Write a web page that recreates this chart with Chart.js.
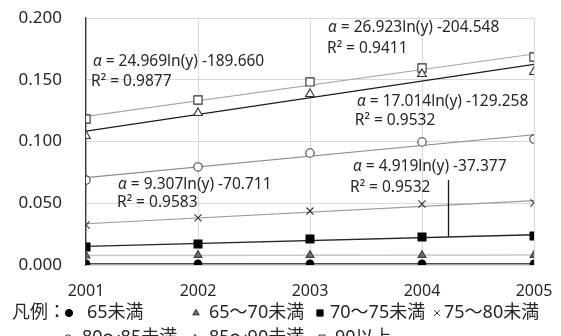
<!DOCTYPE html>
<html>
<head>
<meta charset="utf-8">
<script src="https://cdn.jsdelivr.net/npm/chart.js@4.4.1/dist/chart.umd.min.js"></script>
<style>
  html, body { margin: 0; padding: 0; background: #ffffff; overflow: hidden; }
  canvas { display: block; }
</style>
</head>
<body>
<canvas id="chart" width="561" height="336"></canvas>
<script>
// Years on the horizontal axis and the value ticks on the vertical axis
const years = [2001, 2002, 2003, 2004, 2005];
const yTicks = [0.000, 0.050, 0.100, 0.150, 0.200];

// Age-group names (legend) and the yearly values of each group
const groupNames = ['65未満', '65～70未満', '70～75未満', '75～80未満', '80～85未満', '85～90未満', '90以上'];
const under65   = [0.001, 0.001, 0.001, 0.001, 0.001];
const age65to70 = [0.0075, 0.008, 0.008, 0.008, 0.008];
const age70to75 = [0.0146, 0.0170, 0.0211, 0.0227, 0.0235];
const age75to80 = [0.0324, 0.0381, 0.0437, 0.0494, 0.0502];
const age80to85 = [0.0688, 0.0794, 0.0907, 0.0996, 0.1020];
const age85to90 = [0.1045, 0.1231, 0.1385, 0.1547, 0.1563];
const over90    = [0.1182, 0.1336, 0.1482, 0.1595, 0.1684];

// Fitted-curve equations printed on the plot, with their R² values
const fitGroups    = ['85～90未満', '90以上', '80～85未満', '75～80未満', '70～75未満'];
const fitEquations = ['24.969ln(y) -189.660', '26.923ln(y) -204.548', '17.014ln(y) -129.258', '9.307ln(y) -70.711', '4.919ln(y) -37.377'];
const fitR2        = ['0.9877', '0.9411', '0.9532', '0.9583', '0.9532'];

const groupValues = [under65, age65to70, age70to75, age75to80, age80to85, age85to90, over90];

// Marker and trend-line looks per group
const looks = [
  { shape: 'circle',   r: 3.8, fill: '#000000', edge: '#000000', trend: '#4d4d4d', trendW: 1.6, legR: 3.6 },
  { shape: 'triangle', r: 4.6, fill: '#6b6b6b', edge: '#404040', trend: '#c8c8c8', trendW: 1.4, legR: 3.8 },
  { shape: 'rect',     r: 5.6, fill: '#000000', edge: '#000000', trend: '#262626', trendW: 1.3, legR: 4.4 },
  { shape: 'crossRot', r: 5.0, fill: '#ffffff', edge: '#303030', trend: '#9a9a9a', trendW: 1.1, legR: 4.0 },
  { shape: 'circle',   r: 4.2, fill: '#ffffff', edge: '#404040', trend: '#8c8c8c', trendW: 1.1, legR: 3.2 },
  { shape: 'triangle', r: 5.0, fill: '#ffffff', edge: '#303030', trend: '#1a1a1a', trendW: 1.3, legR: 3.8 },
  { shape: 'rect',     r: 5.8, fill: '#ffffff', edge: '#303030', trend: '#a6a6a6', trendW: 1.1, legR: 4.2 }
];

// Where the equation texts sit, in axis units (year, value)
const notePlaces = [
  { eq: [2001.062, 0.1644], r2: [2001.045, 0.1482] },
  { eq: [2003.161, 0.1919], r2: [2003.152, 0.1749] },
  { eq: [2003.420, 0.1320], r2: [2003.400, 0.1166] },
  { eq: [2001.286, 0.0648], r2: [2001.277, 0.0502] },
  { eq: [2003.384, 0.0794], r2: [2003.357, 0.0623] }
];
// Pointer from the last equation down to its trend line
const pointerYear = 2004.232;
const pointerTop = 0.0688;

// Legend layout: marker centre and text start, per row
const legendSlots = [
  { mx: 69,  tx: 87,  y: 313 }, { mx: 196, tx: 209, y: 313 },
  { mx: 320, tx: 330, y: 313 }, { mx: 437, tx: 444, y: 313 },
  { mx: 68,  tx: 82,  y: 338 }, { mx: 195, tx: 209, y: 338 },
  { mx: 322, tx: 335, y: 338 }
];

const LATIN = '"Noto Sans", "Noto Sans CJK JP", sans-serif';
const TEXT = '#262626';

// Least-squares straight line through one group's yearly values
function lineFit(vals) {
  const n = years.length;
  const mx = years.reduce((a, b) => a + b, 0) / n;
  const my = vals.reduce((a, b) => a + b, 0) / n;
  let sxy = 0, sxx = 0;
  years.forEach((yr, i) => { sxy += (yr - mx) * (vals[i] - my); sxx += (yr - mx) * (yr - mx); });
  const slope = sxy / sxx;
  return yr => my + slope * (yr - mx);
}
const fits = groupValues.map(lineFit);

const datasets = [];
groupValues.forEach((vals, i) => {
  const lk = looks[i];
  datasets.push({
    label: groupNames[i],
    data: years.map((yr, k) => ({ x: yr, y: vals[k] })),
    showLine: false,
    pointStyle: lk.shape,
    pointRadius: lk.r,
    pointHoverRadius: lk.r,
    pointBackgroundColor: lk.fill,
    pointBorderColor: lk.edge,
    pointBorderWidth: 1.1,
    order: 0
  });
});
groupValues.forEach((vals, i) => {
  const lk = looks[i];
  const f = fits[i];
  datasets.push({
    label: groupNames[i] + ' trend',
    data: [years[0], years[years.length - 1]].map(yr => ({ x: yr, y: f(yr) })),
    showLine: true,
    borderColor: lk.trend,
    borderWidth: lk.trendW,
    pointRadius: 0,
    fill: false,
    order: 5
  });
});

const overlay = {
  id: 'overlay',
  afterDatasetsDraw(chart) {
    const { ctx } = chart;
    const sx = chart.scales.x, sy = chart.scales.y;
    ctx.save();
    ctx.fillStyle = TEXT;
    ctx.textBaseline = 'middle';
    ctx.textAlign = 'left';
    fitEquations.forEach((eq, i) => {
      const p = notePlaces[i];
      const ex = sx.getPixelForValue(p.eq[0]), ey = sy.getPixelForValue(p.eq[1]);
      ctx.font = 'italic 15.5px ' + LATIN;
      ctx.fillText('α', ex, ey);
      const w = ctx.measureText('α').width;
      ctx.font = '15.5px ' + LATIN;
      ctx.fillText(' = ' + eq, ex + w, ey);
      ctx.fillText('R² = ' + fitR2[i], sx.getPixelForValue(p.r2[0]), sy.getPixelForValue(p.r2[1]));
    });
    // pointer line to the 70～75未満 trend
    const g = groupNames.indexOf(fitGroups[4]);
    const px = Math.round(sx.getPixelForValue(pointerYear)) + 0.5;
    ctx.strokeStyle = '#1a1a1a';
    ctx.lineWidth = 1.3;
    ctx.beginPath();
    ctx.moveTo(px, sy.getPixelForValue(pointerTop));
    ctx.lineTo(px, sy.getPixelForValue(fits[g](pointerYear)));
    ctx.stroke();
    ctx.restore();
  },
  afterDraw(chart) {
    const { ctx } = chart;
    ctx.save();
    ctx.fillStyle = TEXT;
    ctx.textBaseline = 'middle';
    ctx.textAlign = 'left';
    ctx.font = '18px ' + LATIN;
    ctx.fillText('凡例：', 12, 313);
    groupNames.forEach((name, i) => {
      const s = legendSlots[i];
      const lk = looks[i];
      ctx.fillStyle = lk.fill;
      ctx.strokeStyle = lk.edge;
      ctx.lineWidth = 1;
      Chart.helpers.drawPoint(ctx, { pointStyle: lk.shape, radius: lk.legR, rotation: 0, borderWidth: 1 }, s.mx, s.y);
      ctx.fillStyle = TEXT;
      ctx.font = '18px ' + LATIN;
      ctx.fillText(name, s.tx, s.y);
    });
    ctx.restore();
  }
};

new Chart(document.getElementById('chart'), {
  type: 'scatter',
  data: { datasets },
  plugins: [overlay],
  options: {
    responsive: false,
    animation: false,
    events: [],
    layout: { padding: { left: 0, right: 27, top: 18, bottom: 0 } },
    plugins: { legend: { display: false }, tooltip: { enabled: false } },
    scales: {
      x: {
        type: 'linear',
        min: years[0],
        max: years[years.length - 1],
        afterBuildTicks: s => { s.ticks = years.map(v => ({ value: v })); },
        afterFit: s => { s.height = 71; s.paddingLeft = 0; s.paddingRight = 0; },
        ticks: {
          callback: v => String(v),
          font: { family: LATIN, size: 16 },
          color: TEXT,
          padding: 17,
          maxRotation: 0
        },
        grid: { color: '#d9d9d9', lineWidth: 1, drawTicks: false },
        border: { display: false }
      },
      y: {
        min: 0,
        max: 0.2,
        afterBuildTicks: s => { s.ticks = yTicks.map(v => ({ value: v })); },
        afterFit: s => { s.width = 86; s.paddingTop = 0; s.paddingBottom = 0; },
        ticks: {
          callback: v => v.toFixed(3),
          font: { family: LATIN, size: 17 },
          color: TEXT,
          padding: 24
        },
        grid: { color: '#d9d9d9', lineWidth: 1, drawTicks: false },
        border: { display: true, color: '#3a3a3a', width: 1.3 }
      }
    }
  }
});
</script>
</body>
</html>
